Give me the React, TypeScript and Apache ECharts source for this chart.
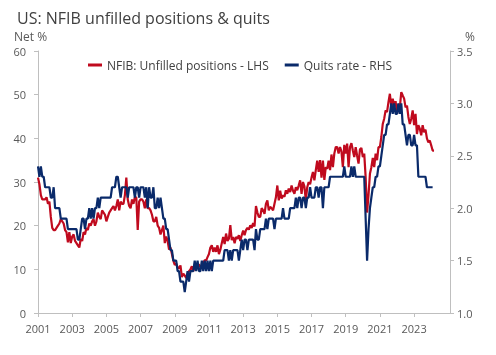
import React, { useEffect, useRef } from "react";
import * as echarts from "echarts";

const chartTitle = "US: NFIB unfilled positions & quits";
const leftAxisName = "Net %";
const rightAxisName = "%";
const seriesNames = ["NFIB: Unfilled positions - LHS", "Quits rate - RHS"];
const startYear = 2001;
const yearTicks = [2001, 2003, 2005, 2007, 2009, 2011, 2013, 2015, 2017, 2019, 2021, 2023];

// NFIB: share of firms with unfilled job openings, net %, monthly from Jan 2001
const nfibUnfilled = [
  31, 29.5, 27, 26, 26, 26, 26.5, 25, 25.5, 22, 19.5, 19,
  19, 19.5, 20, 20.5, 21.5, 21, 20.5, 19, 18.5, 16.2, 18.5, 16,
  17.5, 18, 16.5, 16, 15.5, 15, 17, 16.5, 18.5, 18, 19.5, 19,
  20.5, 20, 21, 21.5, 20, 21, 23, 22, 21.5, 23.5, 23, 22.5,
  21, 22, 23, 23.5, 24, 24.5, 23.5, 24.5, 26, 23.5, 25.5, 25,
  25, 27, 31, 26, 24.5, 24, 26, 25, 26.5, 26.5, 19, 25.5,
  26, 26, 25.5, 24, 26, 24, 24, 23.5, 22.5, 21, 21, 22,
  20, 19.5, 18, 19, 20, 16, 17.5, 16.5, 14.5, 15, 13.5, 12,
  11, 11.3, 10.5, 10.2, 10.9, 8.2, 9, 8.6, 8, 9, 9.6, 10,
  10.7, 9.6, 10.7, 10, 11, 11.1, 10.5, 10.7, 11.5, 12.1, 12, 12.8,
  13.5, 15, 15.5, 14, 15, 14, 15.5, 13.5, 14.5, 16, 17.4, 15.8,
  18.2, 16.5, 17, 20.1, 16.7, 17.4, 16, 17.4, 17, 17.8, 16.5, 17.8,
  18.9, 17.8, 19, 19.5, 19.1, 20.1, 19.5, 20.6, 19.8, 24.5, 23, 22,
  22, 24, 23.5, 22.7, 25, 25.8, 23.5, 24.3, 24, 23.5, 25, 26.5,
  29.2, 25.8, 28, 26.2, 27, 26.6, 28.1, 27.3, 28.5, 27.7, 29.2, 28,
  27.3, 28.8, 28.1, 29.2, 30.4, 27.3, 30, 29, 25.8, 28.8, 30, 29.5,
  31, 32.3, 30.4, 32.7, 34.9, 32.3, 35, 31, 34.9, 30.5, 33.4, 33,
  34.9, 32.7, 36.3, 33.4, 36.5, 38, 38, 36.5, 38, 37, 33.4, 38.5,
  36.5, 38.8, 33.4, 38, 38.9, 37.2, 35.7, 38, 36, 34.2, 37.5, 37.8,
  35.7, 36.5, 31, 23, 27, 31.9, 33.4, 35.5, 33.4, 36.5, 35, 38,
  38, 40.3, 43.3, 44.5, 46.4, 46, 48.3, 50.2, 47.1, 49.1, 47.5, 48.5,
  45.6, 47.9, 47.1, 50.6, 49.8, 49.1, 47.1, 47.5, 44.9, 43.3, 44.5, 46.4,
  43, 45.6, 41, 43, 42.2, 40.7, 43, 41.4, 42, 40, 39.1, 39.5,
  38.4, 37.2, 37.2,
];

// Quits rate, %, monthly from Jan 2001
const quitsRate = [
  2.4, 2.3, 2.4, 2.3, 2.3, 2.2, 2.2, 2.2, 2.2, 2.1, 2.1, 2.2,
  2.0, 2.0, 2.0, 2.0, 1.9, 1.9, 1.9, 1.9, 1.9, 1.8, 1.8, 1.8,
  1.8, 1.8, 1.8, 1.8, 1.7, 1.7, 1.8, 1.9, 1.9, 1.8, 1.9, 1.9,
  2.0, 1.9, 2.0, 1.9, 2.0, 2.0, 2.1, 2.0, 2.1, 2.1, 2.1, 2.1,
  2.1, 2.1, 2.1, 2.1, 2.2, 2.2, 2.2, 2.3, 2.3, 2.2, 2.1, 2.2,
  2.2, 2.2, 2.2, 2.1, 2.2, 2.2, 2.2, 2.2, 2.1, 2.2, 2.2, 2.1,
  2.2, 2.2, 2.2, 2.1, 2.2, 2.0, 2.2, 2.1, 2.1, 2.2, 2.0, 2.0,
  2.1, 2.0, 2.1, 2.0, 1.9, 1.9, 1.8, 1.8, 1.7, 1.6, 1.6, 1.5,
  1.5, 1.5, 1.4, 1.4, 1.3, 1.3, 1.3, 1.2, 1.3, 1.4, 1.3, 1.4,
  1.4, 1.4, 1.5, 1.4, 1.5, 1.4, 1.4, 1.5, 1.4, 1.5, 1.4, 1.5,
  1.4, 1.5, 1.4, 1.5, 1.5, 1.5, 1.5, 1.5, 1.5, 1.5, 1.5, 1.6,
  1.6, 1.6, 1.5, 1.6, 1.5, 1.6, 1.6, 1.6, 1.6, 1.5, 1.6, 1.7,
  1.6, 1.7, 1.7, 1.6, 1.7, 1.7, 1.7, 1.7, 1.6, 1.8, 1.7, 1.7,
  1.8, 1.8, 1.8, 1.8, 1.9, 1.8, 1.9, 1.9, 1.9, 1.9, 1.8, 1.9,
  1.9, 1.9, 1.9, 1.9, 2.0, 1.9, 1.9, 1.9, 1.9, 2.0, 2.0, 2.0,
  2.0, 2.1, 2.0, 2.1, 2.1, 2.0, 2.1, 2.1, 2.0, 2.1, 2.1, 2.2,
  2.1, 2.1, 2.1, 2.2, 2.2, 2.1, 2.2, 2.2, 2.0, 2.2, 2.2, 2.2,
  2.2, 2.3, 2.3, 2.3, 2.3, 2.3, 2.3, 2.3, 2.3, 2.3, 2.3, 2.4,
  2.3, 2.3, 2.3, 2.3, 2.4, 2.3, 2.4, 2.3, 2.3, 2.3, 2.3, 2.3,
  2.3, 2.3, 1.9, 1.5, 1.8, 2.0, 2.1, 2.2, 2.2, 2.3, 2.3, 2.4,
  2.4, 2.5, 2.6, 2.7, 2.7, 2.8, 2.8, 2.9, 3.0, 2.9, 3.0, 2.9,
  2.9, 3.0, 2.9, 3.0, 2.8, 2.8, 2.7, 2.6, 2.7, 2.7, 2.6, 2.6,
  2.7, 2.6, 2.6, 2.3, 2.3, 2.3, 2.3, 2.3, 2.3, 2.2, 2.2, 2.2,
  2.2, 2.2,
];

const RED = "#C00A1E";
const NAVY = "#0A2A6A";
const AXIS = "#BFBFBF";
const LABEL = "#595959";
const FONT = "'Open Sans', 'Noto Sans', sans-serif";

export default function App() {
  const ref = useRef<HTMLDivElement>(null);
  useEffect(() => {
    if (!ref.current) return;
    const chart = echarts.init(ref.current, null, { renderer: "svg" });
    const toPairs = (arr: number[]) => arr.map((v, i) => [startYear + i / 12, v]);
    chart.setOption({
      animation: false,
      textStyle: { fontFamily: FONT },
      title: {
        text: chartTitle,
        left: 12,
        top: 5,
        textStyle: { fontSize: 16, fontWeight: "normal", color: "#404040", fontFamily: FONT },
      },
      legend: {
        top: 54,
        left: 83,
        icon: "rect",
        itemWidth: 14,
        itemHeight: 3,
        itemGap: 16,
        textStyle: { fontSize: 12, color: "#404040", fontFamily: FONT },
        data: seriesNames,
      },
      grid: { left: 38, right: 46, top: 51, bottom: 42, containLabel: false },
      xAxis: {
        type: "value",
        min: 2001,
        max: 2025.1,
        axisLine: { show: true, lineStyle: { color: AXIS, width: 1 } },
        axisTick: { show: true, customValues: yearTicks, length: 4, lineStyle: { color: AXIS } },
        axisLabel: {
          customValues: yearTicks,
          fontSize: 11,
          color: LABEL,
          margin: 10,
          formatter: (v: number) => String(Math.round(v)),
        },
        splitLine: { show: false },
      },
      yAxis: [
        {
          type: "value",
          position: "left",
          min: 0,
          max: 60,
          interval: 10,
          axisLine: { show: true, lineStyle: { color: AXIS, width: 1 } },
          axisTick: { show: true, length: 4, lineStyle: { color: AXIS } },
          axisLabel: { fontSize: 11, color: LABEL, margin: 12 },
          splitLine: { show: false },
        },
        {
          type: "value",
          position: "right",
          min: 1,
          max: 3.5,
          interval: 0.5,
          axisLine: { show: true, lineStyle: { color: AXIS, width: 1 } },
          axisTick: { show: true, length: 4, lineStyle: { color: AXIS } },
          axisLabel: {
            fontSize: 11,
            color: LABEL,
            margin: 7,
            formatter: (v: number) => v.toFixed(1),
          },
          splitLine: { show: false },
        },
      ],
      graphic: [
        {
          type: "text",
          left: 14,
          top: 30,
          style: { text: leftAxisName, fontSize: 12, fill: LABEL, fontFamily: FONT },
        },
        {
          type: "text",
          left: 465,
          top: 30,
          style: { text: rightAxisName, fontSize: 12, fill: LABEL, fontFamily: FONT },
        },
      ],
      series: [
        {
          name: seriesNames[0],
          type: "line",
          yAxisIndex: 0,
          data: toPairs(nfibUnfilled),
          showSymbol: false,
          lineStyle: { color: RED, width: 2.2 },
          itemStyle: { color: RED },
        },
        {
          name: seriesNames[1],
          type: "line",
          yAxisIndex: 1,
          data: toPairs(quitsRate),
          showSymbol: false,
          lineStyle: { color: NAVY, width: 2.2 },
          itemStyle: { color: NAVY },
        },
      ],
    });
    return () => chart.dispose();
  }, []);
  return (
    <div
      ref={ref}
      style={{ position: "fixed", left: 0, top: 0, width: 496, height: 355 }}
    />
  );
}
